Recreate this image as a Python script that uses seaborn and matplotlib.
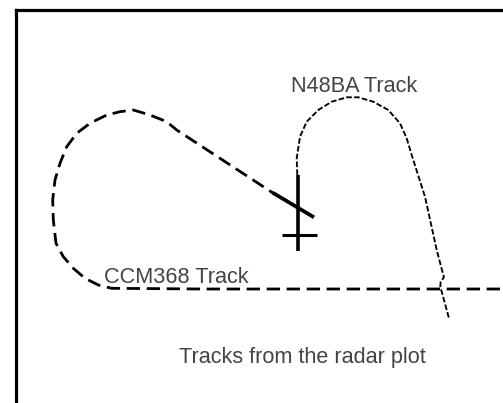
import seaborn as sns
import matplotlib
matplotlib.use("Agg")
import matplotlib.pyplot as plt
import pandas as pd

# track coordinates (image pixels, y downward)
ccm_x = [500, 300, 200, 111.7, 98.3, 85, 73.3, 63.3, 56, 53.3, 52.7, 55, 60, 66.7, 76.7, 90, 106.7, 120, 133.3, 150, 166.7, 176.7, 273]
ccm_y = [289, 289, 289, 288.3, 285, 278.3, 268.3, 256.7, 243.3, 220, 200, 180, 163.3, 146.7, 133.3, 123.3, 115, 111.7, 110, 115, 121.7, 130, 193]

n48_x = [297.3, 296.7, 300, 306.7, 318.3, 331.7, 346.7, 358.3, 373.3, 388.3, 400, 406.7, 411.7, 425, 436.7, 443.3, 444, 440.7, 440.3, 449]
n48_y = [175, 158.3, 136.7, 121.7, 110, 101.7, 97.3, 97.3, 101.7, 110, 123.3, 138.3, 155, 196.7, 250, 275, 277, 281.7, 286.7, 318.3]

# solid marks at the crossing point
heading_x = [272.7, 314]
heading_y = [192.7, 217.3]
stem_x = [297.7, 297.7]
stem_y = [175, 250.7]
bar_x = [281.7, 316.7]
bar_y = [235, 235]

labels = ["N48BA Track", "CCM368 Track", "Tracks from the radar plot"]
label_x = [291, 104, 179]
label_y = [92, 283, 363]

ccm = pd.DataFrame({"x": ccm_x, "y": ccm_y})
n48 = pd.DataFrame({"x": n48_x, "y": n48_y})

sns.set_style("white")
fig = plt.figure(figsize=(5.03, 4.03), dpi=100)
left, top = 15.7, 9.5
ax = fig.add_axes([left / 503, 0, 1 - left / 503, 1 - top / 403])
ax.set_xlim(left, 503)
ax.set_ylim(403, top)

sns.lineplot(data=ccm, x="x", y="y", sort=False, estimator=None, color="black",
             lw=2.0, ax=ax)
ax.lines[-1].set_dashes([4.8, 2.4])
sns.lineplot(data=n48, x="x", y="y", sort=False, estimator=None, color="black",
             lw=1.35, ax=ax)
ax.lines[-1].set_dashes([3.0, 1.2])

ax.plot(heading_x, heading_y, color="black", lw=2.7, solid_capstyle="butt")
ax.plot(stem_x, stem_y, color="black", lw=2.6, solid_capstyle="butt")
ax.plot(bar_x, bar_y, color="black", lw=2.2, solid_capstyle="butt")

for t, x, y in zip(labels, label_x, label_y):
    ax.text(x, y, t, fontsize=15.6, family="Liberation Sans", color="#444444",
            ha="left", va="baseline")

ax.set_xticks([])
ax.set_yticks([])
ax.set_xlabel("")
ax.set_ylabel("")
for s in ["right", "bottom"]:
    ax.spines[s].set_visible(False)
for s in ["left", "top"]:
    ax.spines[s].set_color("black")
    ax.spines[s].set_linewidth(2.3)

fig.savefig("out.png", dpi=100)
